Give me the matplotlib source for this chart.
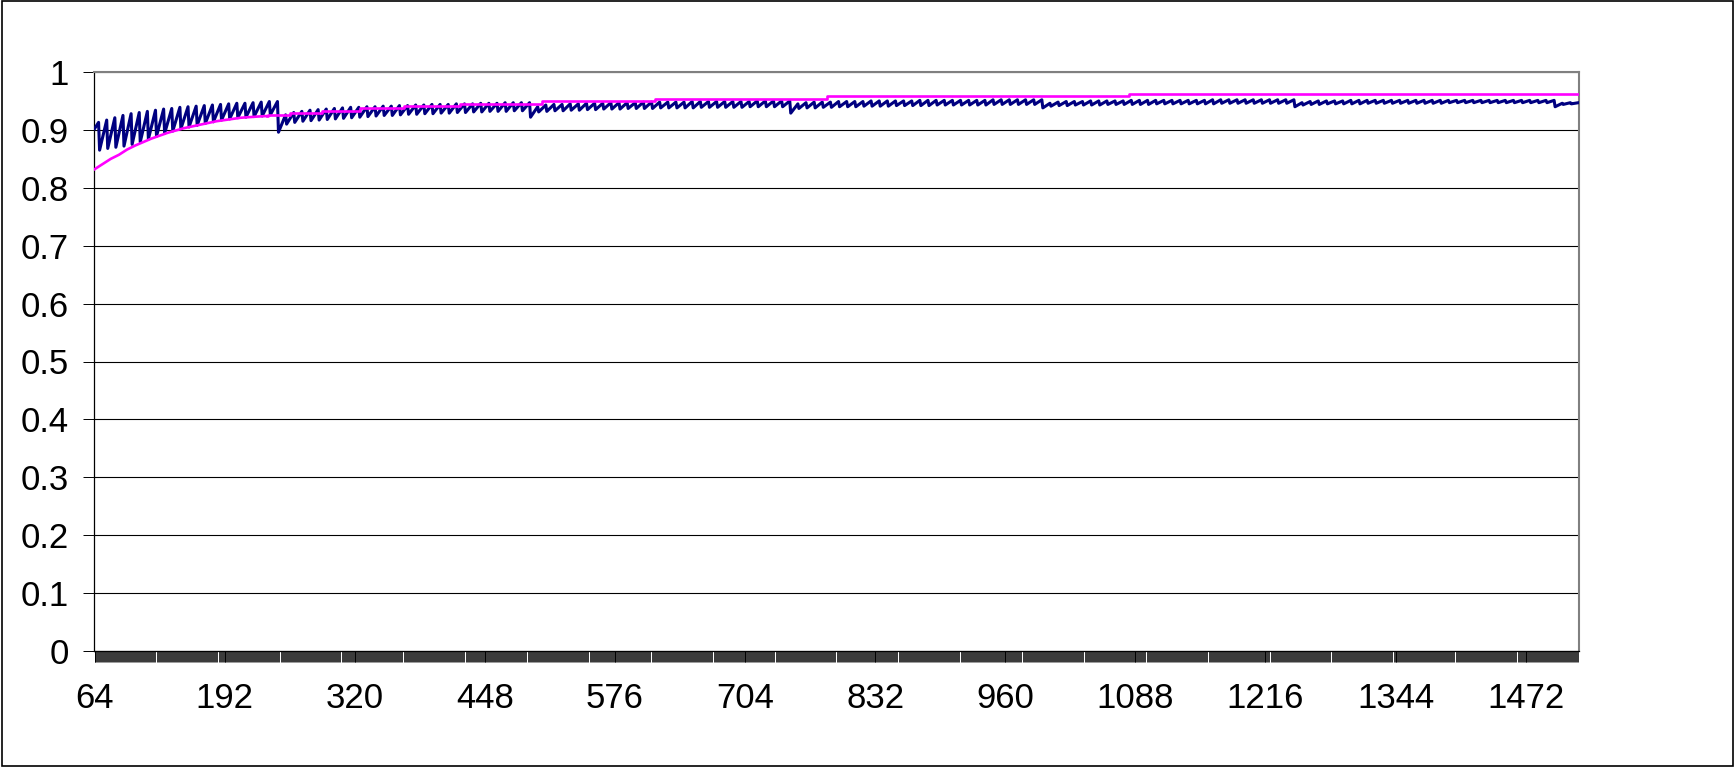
import numpy as np
import matplotlib.pyplot as plt
from matplotlib.patches import Rectangle

plt.rcParams['font.family'] = ['Liberation Sans', 'DejaVu Sans']

# category axis: one category per n, labels every 128
first_cat = 64
last_cat = 1524
label_cats = [64, 192, 320, 448, 576, 704, 832, 960, 1088, 1216, 1344, 1472]
y_ticks = [0, 0.1, 0.2, 0.3, 0.4, 0.5, 0.6, 0.7, 0.8, 0.9, 1]
y_labels = ['0', '0.1', '0.2', '0.3', '0.4', '0.5', '0.6', '0.7', '0.8', '0.9', '1']

# blue series: start, then one trough/peak pair per tooth (period 8)
blue_start_n = [64, 68]
blue_start_v = [0.902, 0.913]

troughs_a = [0.865, 0.868, 0.870, 0.872, 0.875, 0.879, 0.884, 0.889, 0.894, 0.898, 0.902,
             0.905, 0.908, 0.911, 0.914, 0.917, 0.919, 0.921, 0.922, 0.923, 0.924, 0.926]
peaks_a = [0.917, 0.921, 0.925, 0.928, 0.930, 0.932, 0.934, 0.936, 0.937, 0.939, 0.940,
           0.941, 0.942, 0.943, 0.944, 0.945, 0.946, 0.946, 0.947, 0.948, 0.949, 0.949]

troughs_b = [0.896, 0.910, 0.913, 0.915, 0.916, 0.917, 0.918, 0.919, 0.920, 0.921, 0.922,
             0.923, 0.924, 0.925, 0.925, 0.926, 0.927, 0.927, 0.928, 0.928, 0.929, 0.929,
             0.930, 0.930, 0.931, 0.931, 0.932, 0.932, 0.932, 0.933, 0.933]
peaks_b = [0.926, 0.930, 0.932, 0.934, 0.935, 0.936, 0.937, 0.938, 0.939, 0.939, 0.940,
           0.940, 0.941, 0.941, 0.942, 0.942, 0.943, 0.943, 0.944, 0.944, 0.944, 0.945,
           0.945, 0.945, 0.946, 0.946, 0.946, 0.947, 0.947, 0.947, 0.947]

troughs_c = [0.922, 0.931, 0.932, 0.933, 0.933, 0.934, 0.934, 0.935, 0.935, 0.936, 0.936,
             0.936, 0.937, 0.937, 0.937, 0.937, 0.938, 0.938, 0.938, 0.938, 0.938, 0.939,
             0.939, 0.939, 0.939, 0.939, 0.939, 0.940, 0.940, 0.940, 0.940, 0.940]
peaks_c = [0.940, 0.943, 0.944, 0.944, 0.945, 0.945, 0.946, 0.946, 0.946, 0.947, 0.947,
           0.947, 0.947, 0.948, 0.948, 0.948, 0.948, 0.948, 0.948, 0.949, 0.949, 0.949,
           0.949, 0.949, 0.949, 0.949, 0.949, 0.950, 0.950, 0.950, 0.950, 0.950]

troughs_d = [0.929, 0.937, 0.938, 0.938, 0.939, 0.939, 0.940, 0.940, 0.940, 0.941, 0.941,
             0.941, 0.941, 0.942, 0.942, 0.942, 0.942, 0.942, 0.943, 0.943, 0.943, 0.943,
             0.943, 0.943, 0.943, 0.944, 0.944, 0.944, 0.944, 0.944, 0.944]
peaks_d = [0.945, 0.947, 0.948, 0.948, 0.948, 0.949, 0.949, 0.949, 0.949, 0.950, 0.950,
           0.950, 0.950, 0.950, 0.950, 0.951, 0.951, 0.951, 0.951, 0.951, 0.951, 0.951,
           0.951, 0.951, 0.952, 0.952, 0.952, 0.952, 0.952, 0.952, 0.952]

troughs_e = [0.938, 0.941, 0.942, 0.942, 0.943, 0.943, 0.943, 0.943, 0.944, 0.944, 0.944,
             0.944, 0.944, 0.944, 0.945, 0.945, 0.945, 0.945, 0.945, 0.945, 0.945, 0.945,
             0.946, 0.946, 0.946, 0.946, 0.946, 0.946, 0.946, 0.946, 0.946]
peaks_e = [0.946, 0.948, 0.949, 0.949, 0.949, 0.950, 0.950, 0.950, 0.950, 0.950, 0.951,
           0.951, 0.951, 0.951, 0.951, 0.951, 0.951, 0.951, 0.951, 0.951, 0.952, 0.952,
           0.952, 0.952, 0.952, 0.952, 0.952, 0.952, 0.952, 0.952, 0.952]

troughs_f = [0.940, 0.943, 0.944, 0.944, 0.945, 0.945, 0.945, 0.945, 0.945, 0.946, 0.946,
             0.946, 0.946, 0.946, 0.946, 0.946, 0.946, 0.946, 0.946, 0.947, 0.947, 0.947,
             0.947, 0.947, 0.947, 0.947, 0.947, 0.947, 0.947, 0.947, 0.947, 0.947]
peaks_f = [0.947, 0.949, 0.950, 0.950, 0.950, 0.950, 0.951, 0.951, 0.951, 0.951, 0.951,
           0.951, 0.951, 0.951, 0.951, 0.951, 0.951, 0.951, 0.951, 0.951, 0.951, 0.951,
           0.951, 0.951, 0.951, 0.951, 0.951, 0.951, 0.951, 0.951, 0.951, 0.951]

troughs_g = [0.940, 0.944, 0.945]
peaks_g = [0.946, 0.947, 0.947]

blue_troughs = troughs_a + troughs_b + troughs_c + troughs_d + troughs_e + troughs_f + troughs_g
blue_peaks = peaks_a + peaks_b + peaks_c + peaks_d + peaks_e + peaks_f + peaks_g

# magenta series: smooth start, then steps
mag_curve_n = [64, 72, 80, 88, 96, 104, 112, 120, 128, 136, 144, 152, 160, 168, 176,
               184, 192, 200, 208, 216, 224, 234]
mag_curve_v = [0.832, 0.841, 0.850, 0.857, 0.866, 0.873, 0.879, 0.885, 0.890, 0.895, 0.899,
               0.903, 0.906, 0.909, 0.912, 0.915, 0.917, 0.919, 0.921, 0.922, 0.923, 0.924]
mag_step_n = [234, 235, 256, 288, 325, 368, 424, 504, 615, 785, 1082, 1524]
mag_step_v = [0.924, 0.926, 0.929, 0.933, 0.937, 0.941, 0.945, 0.950, 0.954, 0.9585, 0.9615, 0.9615]

# tooth positions
trough_n = 69 + 8 * np.arange(len(blue_troughs))
peak_n = trough_n + 7
blue_n = np.concatenate([blue_start_n, np.column_stack([trough_n, peak_n]).ravel()])
blue_v = np.concatenate([blue_start_v, np.column_stack([blue_troughs, blue_peaks]).ravel()])

W, H = 1735, 767
fig = plt.figure(figsize=(W / 100, H / 100), dpi=100)
ax = fig.add_axes([94 / W, 1 - 651 / H, (1579 - 94) / W, (651 - 72) / H])

ax.plot(blue_n, blue_v, color='#000080', lw=2.2, zorder=3)
ax.plot(mag_curve_n, mag_curve_v, color='#FF00FF', lw=1.9, zorder=4)
ax.plot(mag_step_n, mag_step_v, color='#FF00FF', lw=1.9, drawstyle='steps-post', zorder=4)

ax.set_xlim(first_cat - 0.5, last_cat + 0.5)
ax.set_ylim(0, 1)
ax.set_yticks(y_ticks)
ax.set_yticklabels(y_labels)
ax.set_xticks(label_cats)
ax.set_xticklabels([str(c) for c in label_cats])
ax.xaxis.remove_overlapping_locs = False
ax.set_xticks(np.arange(first_cat, last_cat + 1), minor=True)

ax.yaxis.grid(True, color='black', lw=0.8)
ax.set_axisbelow(True)

for s in ['top', 'right']:
    ax.spines[s].set_color('#808080')
    ax.spines[s].set_linewidth(1.5)
for s in ['left', 'bottom']:
    ax.spines[s].set_color('black')
    ax.spines[s].set_linewidth(0.9)

ax.tick_params(axis='both', which='major', direction='out', length=8, width=0.7,
               color='black', labelsize=25)
ax.tick_params(axis='x', which='minor', direction='out', length=8, width=0.55,
               color='black')
ax.tick_params(axis='x', which='major', pad=14)
ax.tick_params(axis='y', which='major', pad=10)

# chart area border
fig.patches.append(Rectangle((0.001, 0.001), 0.998, 0.998, transform=fig.transFigure,
                             fill=False, edgecolor='black', lw=1.2))

fig.savefig('out.png', dpi=100)
